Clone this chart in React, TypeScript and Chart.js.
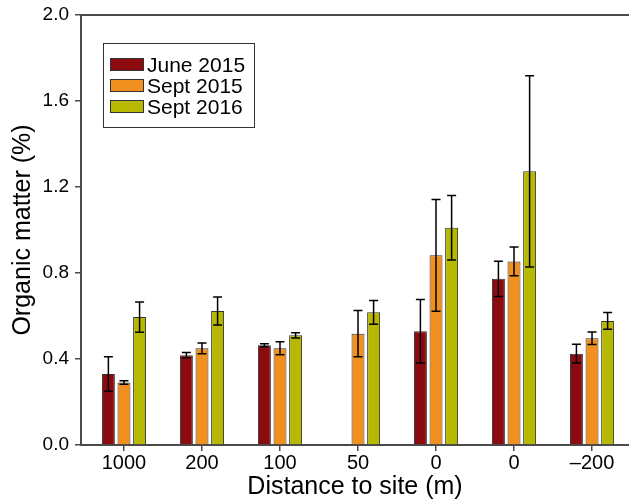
import React, { useEffect, useRef } from 'react';
import { Chart, registerables } from 'chart.js';

Chart.register(...registerables);

const categories = ['1000', '200', '100', '50', '0', '0', '\u2013200'];
const seriesNames = ['June 2015', 'Sept 2015', 'Sept 2016'];
const june2015 = [0.33, 0.418, 0.464, null, 0.529, 0.773, 0.425];
const june2015Err = [0.08, 0.012, 0.007, null, 0.148, 0.082, 0.044];
const sept2015 = [0.291, 0.45, 0.45, 0.518, 0.882, 0.854, 0.497];
const sept2015Err = [0.008, 0.025, 0.03, 0.108, 0.26, 0.067, 0.029];
const sept2016 = [0.595, 0.623, 0.51, 0.617, 1.01, 1.273, 0.577];
const sept2016Err = [0.07, 0.065, 0.012, 0.055, 0.15, 0.445, 0.039];
const yTicks = [0, 0.4, 0.8, 1.2, 1.6, 2.0];
const colors = ['#8C0B10', '#F2901F', '#B6B802'];

const FONT = "'Liberation Sans', Arial, Helvetica, sans-serif";
const AXIS_COLOR = '#4a4a4a';

const errorBarPlugin = {
  id: 'errorBars',
  afterDatasetsDraw(chart: any) {
    const ctx = chart.ctx;
    const yScale = chart.scales.y;
    ctx.save();
    ctx.strokeStyle = '#000';
    ctx.lineWidth = 1.5;
    chart.data.datasets.forEach((ds: any, di: number) => {
      const meta = chart.getDatasetMeta(di);
      ds.errors.forEach((e: number | null, i: number) => {
        const v = ds.data[i].y;
        if (v == null || e == null) return;
        const bar = meta.data[i];
        const x = bar.x;
        const yt = yScale.getPixelForValue(v + e);
        const yb = yScale.getPixelForValue(v - e);
        const cap = 4.5;
        ctx.beginPath();
        ctx.moveTo(x, yt);
        ctx.lineTo(x, yb);
        ctx.moveTo(x - cap, yt);
        ctx.lineTo(x + cap, yt);
        ctx.moveTo(x - cap, yb);
        ctx.lineTo(x + cap, yb);
        ctx.stroke();
      });
    });
    ctx.restore();
  },
};

const framePlugin = {
  id: 'frameTop',
  afterDraw(chart: any) {
    const { ctx, chartArea } = chart;
    ctx.save();
    ctx.strokeStyle = AXIS_COLOR;
    ctx.lineWidth = 2;
    ctx.beginPath();
    ctx.moveTo(chartArea.left - 1, chartArea.top);
    ctx.lineTo(chartArea.right, chartArea.top);
    ctx.stroke();
    ctx.restore();
  },
};

const legendPlugin = {
  id: 'boxLegend',
  afterDraw(chart: any) {
    const ctx = chart.ctx;
    ctx.save();
    ctx.strokeStyle = '#333';
    ctx.lineWidth = 1;
    ctx.strokeRect(103.5, 43.5, 151, 84);
    ctx.font = `21px ${FONT}`;
    ctx.textBaseline = 'alphabetic';
    ctx.textAlign = 'left';
    chart.data.datasets.forEach((ds: any, i: number) => {
      const top = 58 + i * 21;
      ctx.fillStyle = ds.backgroundColor;
      ctx.fillRect(110.5, top + 0.5, 33, 12);
      ctx.strokeStyle = '#333';
      ctx.strokeRect(110.5, top + 0.5, 33, 12);
      ctx.fillStyle = '#000';
      ctx.fillText(ds.label, 147, top + 14);
    });
    ctx.restore();
  },
};

export default function App() {
  const canvasRef = useRef<HTMLCanvasElement | null>(null);

  useEffect(() => {
    if (!canvasRef.current) return;
    Chart.defaults.font.family = FONT;
    Chart.defaults.color = '#000';
    const series = [june2015, sept2015, sept2016];
    const errs = [june2015Err, sept2015Err, sept2016Err];
    const chart = new Chart(canvasRef.current, {
      type: 'bar',
      data: {
        datasets: series.map((vals, si) => ({
          label: seriesNames[si],
          data: vals.map((v, i) => ({ x: i, y: v })),
          errors: errs[si],
          backgroundColor: colors[si],
          borderColor: '#333',
          borderWidth: 1,
          categoryPercentage: 0.6,
          barPercentage: 0.83,
        })) as any,
      },
      options: {
        animation: false,
        responsive: false,
        events: [],
        layout: { padding: { top: 15, left: 0, right: 0, bottom: 0 } },
        plugins: {
          legend: { display: false },
          tooltip: { enabled: false },
        },
        scales: {
          x: {
            type: 'linear',
            offset: false,
            min: -0.551,
            max: 6.474,
            afterBuildTicks: (scale: any) => {
              scale.ticks = categories.map((_, i) => ({ value: i }));
            },
            afterFit: (scale: any) => {
              scale.height = 57;
              scale.paddingLeft = 0;
              scale.paddingRight = 0;
            },
            grid: {
              display: true,
              offset: false,
              drawOnChartArea: false,
              drawTicks: true,
              tickLength: 6,
              color: AXIS_COLOR,
              lineWidth: 1.5,
            },
            border: { display: true, color: AXIS_COLOR, width: 2 },
            ticks: {
              autoSkip: false,
              maxRotation: 0,
              padding: 0,
              font: { size: 20 },
              callback: (v: any) => categories[v as number] ?? '',
            },
            title: {
              display: true,
              text: 'Distance to site (m)',
              font: { size: 25 },
              padding: { top: 0, bottom: 0 },
            },
          },
          y: {
            min: 0,
            max: 2.0,
            afterBuildTicks: (scale: any) => {
              scale.ticks = yTicks.map((v) => ({ value: v }));
            },
            afterFit: (scale: any) => {
              scale.width = 81;
              scale.paddingTop = 0;
              scale.paddingBottom = 0;
            },
            grid: {
              display: true,
              drawOnChartArea: false,
              drawTicks: true,
              tickLength: 6,
              color: AXIS_COLOR,
              lineWidth: 1.5,
            },
            border: { display: true, color: AXIS_COLOR, width: 2 },
            ticks: {
              padding: 6,
              font: { size: 19 },
              callback: (v: any) => Number(v).toFixed(1),
            },
            title: {
              display: true,
              text: 'Organic matter (%)',
              font: { size: 25 },
              padding: { top: 8, bottom: 0 },
            },
          },
        },
      },
      plugins: [errorBarPlugin, framePlugin, legendPlugin],
    } as any);
    return () => chart.destroy();
  }, []);

  return (
    <div style={{ position: 'absolute', left: 0, top: 0, width: 629, height: 502, background: '#fff' }}>
      <canvas ref={canvasRef} width={629} height={502} style={{ width: 629, height: 502, display: 'block' }} />
    </div>
  );
}
